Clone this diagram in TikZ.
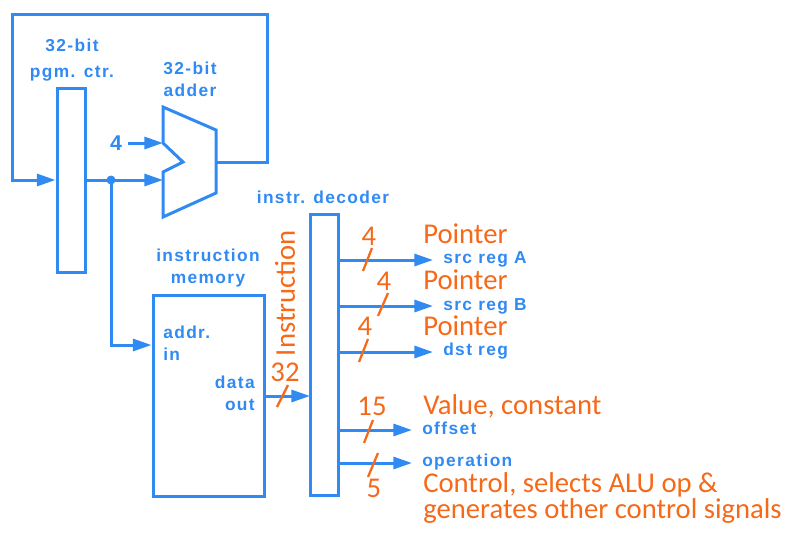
\documentclass[tikz,border=0pt]{standalone}
\usepackage{fontspec}
\setmainfont{Liberation Sans}
\newfontfamily\bfnt[LetterSpace=8]{Liberation Sans}
\newfontfamily\ofnt{Carlito}
\usetikzlibrary{arrows.meta}
\definecolor{cblue}{RGB}{48,138,242}
\definecolor{corange}{RGB}{245,105,25}
\tikzset{
  wire/.style={draw=cblue, line width=2.25pt, line join=miter},
  arr/.style={wire, -{Triangle[length=14pt,width=9pt]}},
  box/.style={draw=cblue, line width=2.25pt, fill=none, inner sep=0pt},
  blab/.style={text=cblue, inner sep=0pt, font=\bfnt\bfseries\fontsize{13}{16.5}\selectfont},
  olab/.style={text=corange, inner sep=0pt, font=\ofnt\fontsize{21.5}{18}\selectfont},
  slash/.style={draw=corange, line width=1.7pt},
}
\begin{document}
\begin{tikzpicture}[x=0.75pt,y=-0.75pt]
\useasboundingbox (0,0) rectangle (799,540);

% boxes
\node[box, minimum width=21pt, minimum height=138pt] (pc) at (71,180) {};
\node[box, minimum width=83.25pt, minimum height=150.75pt] (mem) at (208.5,395.5) {};
\node[box, minimum width=21pt, minimum height=210.75pt] (dec) at (324,354.5) {};

% adder
\draw[wire] (163,107) -- (216,130) -- (216,193) -- (163,217) -- (163,172) -- (183,162) -- (163,143) -- cycle;
\coordinate (addin1) at (163,143);
\coordinate (addin2) at (163,180);
\coordinate (addout) at (216,162);

% labels
\node[blab, align=center, font=\bfnt\bfseries\fontsize{13}{19.5}\selectfont] (pclab) at (72,60) {32-bit\\pgm. ctr.};
\node[blab, align=center] (addlab) at (190,79) {32-bit\\adder};
\node[blab] (declab) at (323,197) {instr. decoder};
\node[blab, align=center] (memlab) at (208,268) {instruction\\memory};
\node[blab, align=left, anchor=west] (addrlab) at (163,343.5) {addr.\\in};
\node[blab, align=right, anchor=east] (datalab) at (255,393.5) {data\\out};
\node[blab, font=\bfnt\bfseries\fontsize{16}{18}\selectfont] (four) at (116,143) {4};
\coordinate (fourend) at (128,143);

% loop
\coordinate (lr) at (267,162);
\coordinate (tr) at (267,14);
\coordinate (tl) at (12,14);
\coordinate (bl) at (12,180);
\draw[arr] (addout) -- (lr) -- (tr) -- (tl) -- (bl) -- (pc.west |- bl);
\coordinate (dot) at (111,180);
\draw[arr] (pc.east |- dot) -- (dot) -- (addin2);
\fill[cblue] (dot) circle (4.5);
\draw[arr] (fourend) -- (addin1);
\coordinate (memin) at (111,345);
\draw[arr] (dot) -- (memin) -- (mem.west |- memin);
\coordinate (dout) at (310,396);
\draw[arr] (mem.east |- dout) -- (dout);

% decoder outputs
\coordinate (e1) at (433,260);
\coordinate (e2) at (433,306);
\coordinate (e3) at (433,352);
\coordinate (e4) at (412,430);
\coordinate (e5) at (412,463);
\draw[arr] (dec.east |- e1) -- (e1);
\draw[arr] (dec.east |- e2) -- (e2);
\draw[arr] (dec.east |- e3) -- (e3);
\draw[arr] (dec.east |- e4) -- (e4);
\draw[arr] (dec.east |- e5) -- (e5);

\node[blab, anchor=west] (l1) at (443,259) {src reg A};
\node[blab, anchor=west] (l2) at (443,306) {src reg B};
\node[blab, anchor=west] (l3) at (443,351) {dst reg};
\node[blab, anchor=west] (l4) at (422,428) {offset};
\node[blab, anchor=west] (l5) at (422,462) {operation};

% orange annotations
\node[olab, anchor=west] (p1) at (423,234) {Pointer};
\node[olab, anchor=west] (p2) at (423,280) {Pointer};
\node[olab, anchor=west] (p3) at (423,326) {Pointer};
\node[olab, anchor=west] (v) at (423,406) {Value, constant};
\node[olab, anchor=west] (c1) at (423,485) {Control, selects ALU op \&};
\node[olab, anchor=west] (c2) at (423,511) {generates other control signals};
\node[olab, rotate=90] (instr) at (285,293) {Instruction};
\node[olab] (n32) at (285,372) {32};
\node[olab] (n1) at (369,236) {4};
\node[olab] (n2) at (384,281) {4};
\node[olab] (n3) at (365,326) {4};
\node[olab] (n4) at (372,406) {15};
\node[olab] (n5) at (374,488) {5};

\draw[slash] (277,407) -- (288,385);
\draw[slash] (363,271) -- (372,248);
\draw[slash] (378,316) -- (388,293);
\draw[slash] (359,362) -- (368,339);
\draw[slash] (364,443) -- (373,420);
\draw[slash] (368,477) -- (378,453);
\end{tikzpicture}
\end{document}
